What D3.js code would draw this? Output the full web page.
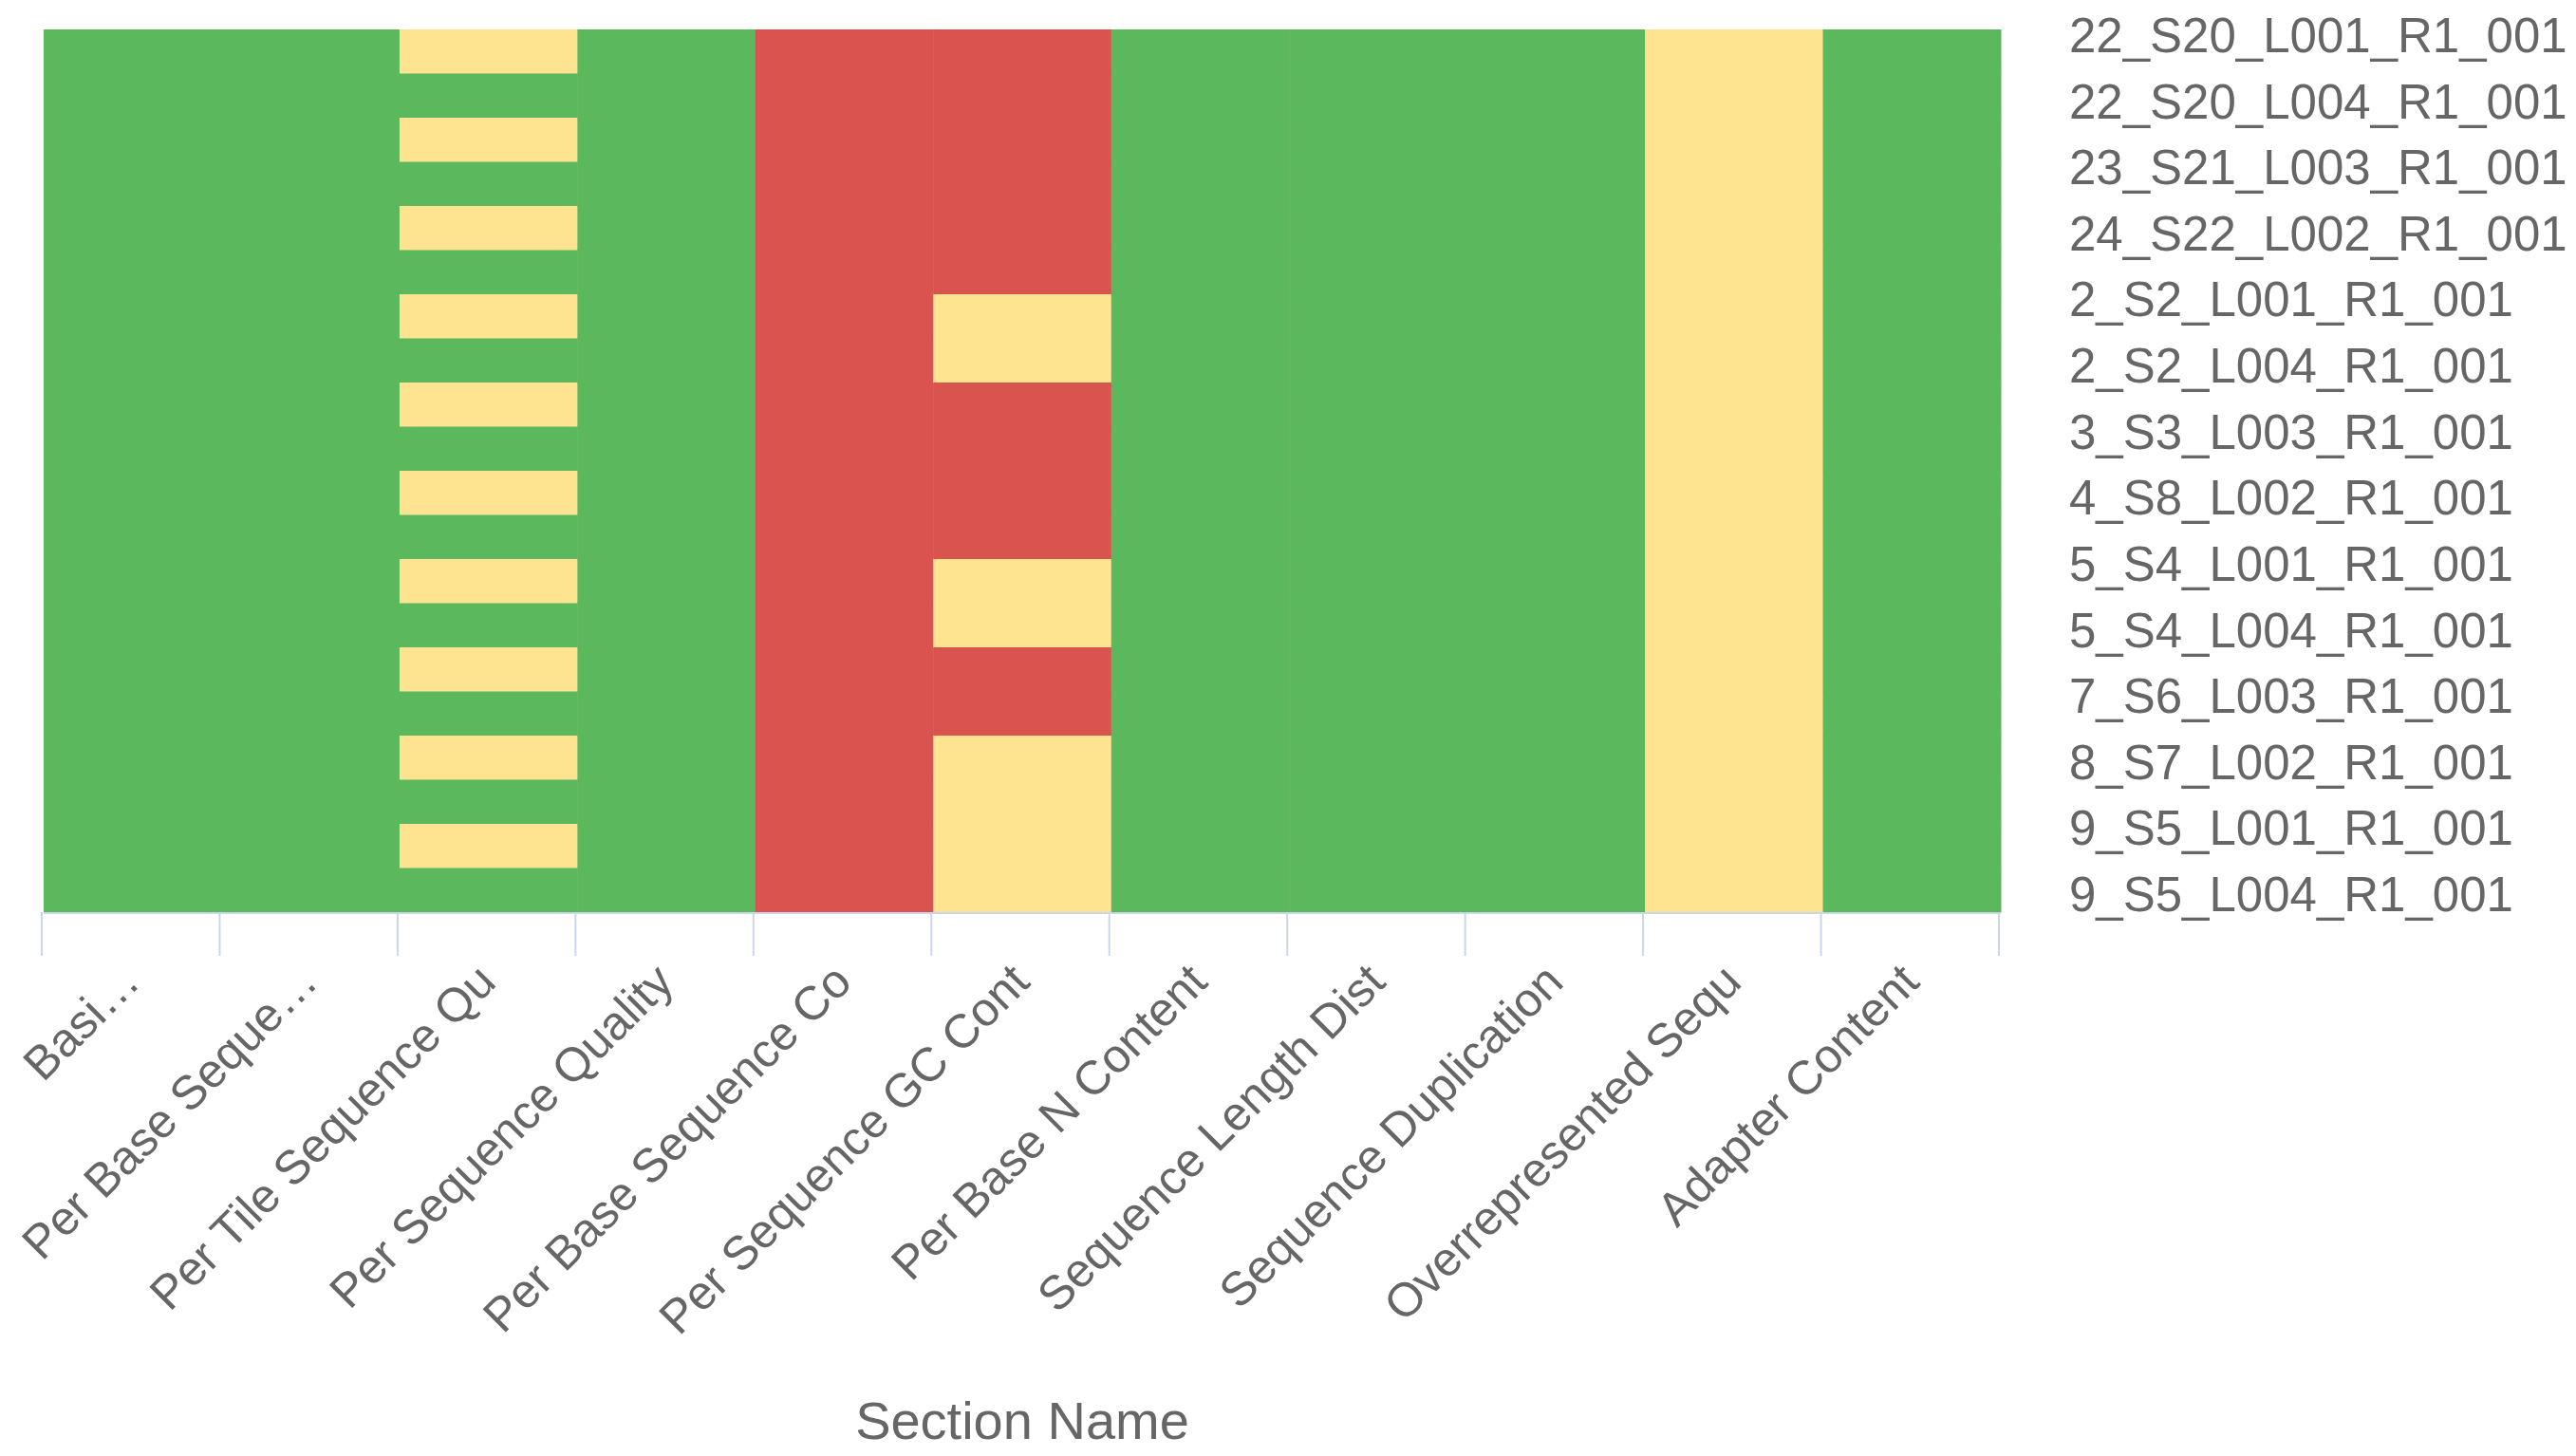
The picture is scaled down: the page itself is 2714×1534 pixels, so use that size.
<!DOCTYPE html>
<html>
<head>
<meta charset="utf-8">
<script src="https://cdn.jsdelivr.net/npm/d3@7"></script>
<style>
  html, body { margin: 0; padding: 0; background: #ffffff; }
  svg { display: block; }
</style>
</head>
<body>
<svg id="chart" width="2714" height="1534"></svg>
<script>
// ---- Data ----
const sections = [
  "Basi…", "Per Base Seque…", "Per Tile Sequence Qu", "Per Sequence Quality",
  "Per Base Sequence Co", "Per Sequence GC Cont", "Per Base N Content",
  "Sequence Length Dist", "Sequence Duplication", "Overrepresented Sequ", "Adapter Content"
];
const sampleLabels = [
  "22_S20_L001_R1_001", "22_S20_L004_R1_001", "23_S21_L003_R1_001", "24_S22_L002_R1_001",
  "2_S2_L001_R1_001", "2_S2_L004_R1_001", "3_S3_L003_R1_001", "4_S8_L002_R1_001",
  "5_S4_L001_R1_001", "5_S4_L004_R1_001", "7_S6_L003_R1_001", "8_S7_L002_R1_001",
  "9_S5_L001_R1_001", "9_S5_L004_R1_001"
];
// status per heatmap row (top to bottom, 20 rows): 1 = pass, 0.5 = warn, 0.25 = fail
const basicStats        = [1,1,1,1,1,1,1,1,1,1,1,1,1,1,1,1,1,1,1,1];
const perBaseQuality    = [1,1,1,1,1,1,1,1,1,1,1,1,1,1,1,1,1,1,1,1];
const perTileQuality    = [0.5,1,0.5,1,0.5,1,0.5,1,0.5,1,0.5,1,0.5,1,0.5,1,0.5,1,0.5,1];
const perSeqQuality     = [1,1,1,1,1,1,1,1,1,1,1,1,1,1,1,1,1,1,1,1];
const perBaseContent    = [0.25,0.25,0.25,0.25,0.25,0.25,0.25,0.25,0.25,0.25,0.25,0.25,0.25,0.25,0.25,0.25,0.25,0.25,0.25,0.25];
const perSeqGC          = [0.25,0.25,0.25,0.25,0.25,0.25,0.5,0.5,0.25,0.25,0.25,0.25,0.5,0.5,0.25,0.25,0.5,0.5,0.5,0.5];
const perBaseN          = [1,1,1,1,1,1,1,1,1,1,1,1,1,1,1,1,1,1,1,1];
const seqLength         = [1,1,1,1,1,1,1,1,1,1,1,1,1,1,1,1,1,1,1,1];
const seqDuplication    = [1,1,1,1,1,1,1,1,1,1,1,1,1,1,1,1,1,1,1,1];
const overrepresented   = [0.5,0.5,0.5,0.5,0.5,0.5,0.5,0.5,0.5,0.5,0.5,0.5,0.5,0.5,0.5,0.5,0.5,0.5,0.5,0.5];
const adapterContent    = [1,1,1,1,1,1,1,1,1,1,1,1,1,1,1,1,1,1,1,1];
const columns = [basicStats, perBaseQuality, perTileQuality, perSeqQuality, perBaseContent,
  perSeqGC, perBaseN, seqLength, seqDuplication, overrepresented, adapterContent];
const colorStops = [0, 0.25, 0.5, 1];
const colorValues = ["#ffffff", "#d9534f", "#fee391", "#5cb85c"];

// ---- Build cells ----
const nRows = basicStats.length;
const cells = [];
columns.forEach((col, ci) => col.forEach((v, ri) => cells.push({ section: sections[ci], row: ri, value: v })));

// ---- Layout ----
const svg = d3.select("#chart");
const plot = { left: 46, right: 2108, top: 31, bottom: 961 };
const FONT = "'Liberation Sans', Arial, sans-serif";

const x = d3.scaleBand().domain(sections).range([plot.left, plot.right]).padding(0);
const y = d3.scaleBand().domain(d3.range(nRows)).range([plot.top, plot.bottom]).padding(0);
const color = d3.scaleLinear().domain(colorStops).range(colorValues);

svg.append("rect").attr("width", 2714).attr("height", 1534).attr("fill", "#ffffff");

svg.append("g").selectAll("rect").data(cells).join("rect")
  .attr("x", d => x(d.section))
  .attr("y", d => y(d.row))
  .attr("width", x.bandwidth() + 0.5)
  .attr("height", y.bandwidth() + 0.5)
  .attr("fill", d => color(d.value));

// x axis: baseline + boundary ticks
const axisG = svg.append("g");
axisG.append("line")
  .attr("x1", plot.left).attr("x2", plot.right)
  .attr("y1", plot.bottom + 1).attr("y2", plot.bottom + 1)
  .attr("stroke", "#ccd6eb").attr("stroke-width", 2);
const boundaries = sections.map(s => x(s)).concat([x(sections[sections.length - 1]) + x.bandwidth()]);
axisG.selectAll("line.tick").data(boundaries).join("line")
  .attr("class", "tick")
  .attr("x1", d => d - 2).attr("x2", d => d - 2)
  .attr("y1", plot.bottom).attr("y2", plot.bottom + 46)
  .attr("stroke", "#ccd6eb").attr("stroke-width", 2);

axisG.selectAll("text.xl").data(sections).join("text")
  .attr("class", "xl")
  .attr("transform", d => `translate(${x(d) + x.bandwidth() / 2 + 10},${plot.bottom + 76}) rotate(-45)`)
  .attr("text-anchor", "end")
  .attr("font-family", FONT)
  .attr("font-size", 50)
  .attr("fill", "#666666")
  .text(d => d);

svg.append("text")
  .attr("x", (plot.left + plot.right) / 2)
  .attr("y", 1516)
  .attr("text-anchor", "middle")
  .attr("font-family", FONT)
  .attr("font-size", 56)
  .attr("fill", "#666666")
  .text("Section Name");

// sample labels at right
const ly = d3.scalePoint().domain(sampleLabels).range([55, 960]);
svg.append("g").selectAll("text").data(sampleLabels).join("text")
  .attr("x", 2180)
  .attr("y", d => ly(d))
  .attr("font-family", FONT)
  .attr("font-size", 51)
  .attr("fill", "#666666")
  .text(d => d);
</script>
</body>
</html>
